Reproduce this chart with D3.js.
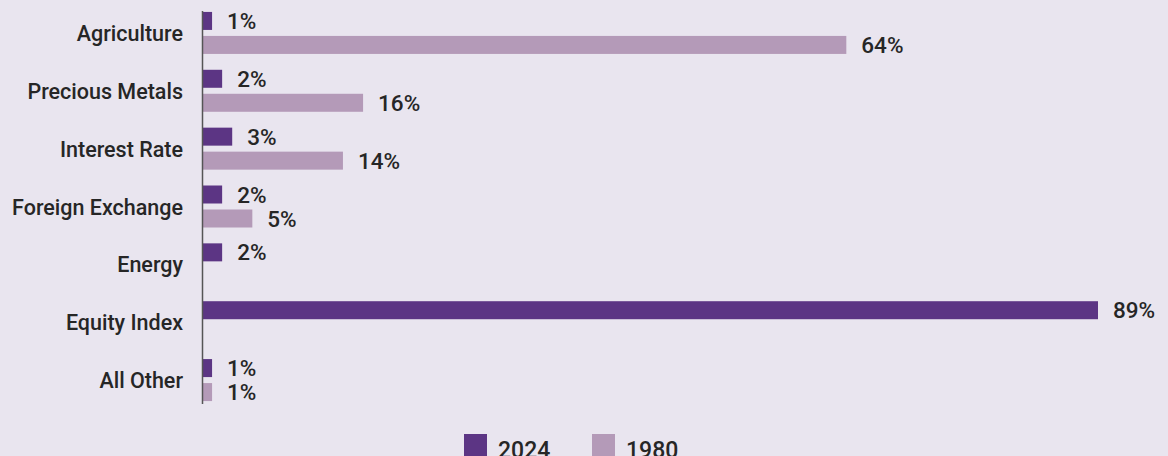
<!DOCTYPE html>
<html>
<head>
<meta charset="utf-8">
<script src="https://cdn.jsdelivr.net/npm/d3@7"></script>
<style>
  html, body { margin: 0; padding: 0; background: #e9e5ef; }
  svg { display: block; }
</style>
</head>
<body>
<div id="chart"></div>
<script>
// Width and height
let w = 1168;
let h = 456;
let margin = {top: 4, right: 70, bottom: 47, left: 202};

// data
let categories = ["Agriculture", "Precious Metals", "Interest Rate", "Foreign Exchange", "Energy", "Equity Index", "All Other"];
let series = ["2024", "1980"];
let values2024 = [1, 2, 3, 2, 2, 89, 1];
let values1980 = [64, 16, 14, 5, 0, 0, 1];

let colors = {"2024": "#5c3584", "1980": "#b49ab8"};
let fontFamily = "Roboto, 'Liberation Sans', Arial, sans-serif";

let rows = categories.map(function(c, i) {
    return {cat: c, "2024": values2024[i], "1980": values1980[i]};
});

let svg = d3.select("#chart")
            .append("svg")
            .attr("width", w)
            .attr("height", h);

let y = d3.scaleBand()
          .domain(categories)
          .range([margin.top, h - margin.bottom])
          .paddingInner(0);

let ySub = d3.scaleBand()
             .domain(series)
             .range([-21, 21])
             .paddingInner(0.25);

// 0 at the axis, about 10.07px per percent
let x = d3.scaleLinear()
          .domain([0, 89])
          .range([margin.left, 1098]);

let g = svg.selectAll("g.cat")
           .data(rows)
           .enter()
           .append("g")
           .attr("class", "cat")
           .attr("transform", function(d) { return "translate(0," + (y(d.cat) + y.bandwidth() / 2) + ")"; });

// category labels
g.append("text")
 .attr("x", margin.left - 19)
 .attr("y", 8)
 .attr("text-anchor", "end")
 .style("font", "500 21.5px " + fontFamily)
 .style("fill", "#262626")
 .text(function(d) { return d.cat; });

series.forEach(function(s) {
    let sub = g.filter(function(d) { return d[s] > 0; });

    sub.append("rect")
       .attr("x", x(0))
       .attr("y", ySub(s))
       .attr("width", function(d) { return x(d[s]) - x(0); })
       .attr("height", ySub.bandwidth())
       .style("fill", colors[s]);

    sub.append("text")
       .attr("x", function(d) { return x(d[s]) + 15; })
       .attr("y", ySub(s) + ySub.bandwidth() / 2 + 8)
       .style("font", "500 22.5px " + fontFamily)
       .style("fill", "#262626")
       .text(function(d) { return d[s] + "%"; });
});

// axis line
svg.append("line")
   .attr("x1", x(0) + 0.5)
   .attr("x2", x(0) + 0.5)
   .attr("y1", y(categories[0]) + 7)
   .attr("y2", y(categories[categories.length - 1]) + y.bandwidth() - 5)
   .style("stroke", "#555")
   .style("stroke-width", 1.5);

// legend
let legend = svg.append("g").attr("transform", "translate(464,434)");
let item = legend.selectAll("g")
                 .data(series)
                 .enter()
                 .append("g")
                 .attr("transform", function(d, i) { return "translate(" + (i * 128) + ",0)"; });

item.append("rect")
    .attr("width", 23)
    .attr("height", 23)
    .style("fill", function(d) { return colors[d]; });

item.append("text")
    .attr("x", 34)
    .attr("y", 24)
    .style("font", "500 23px " + fontFamily)
    .style("fill", "#262626")
    .text(function(d) { return d; });
</script>
</body>
</html>
